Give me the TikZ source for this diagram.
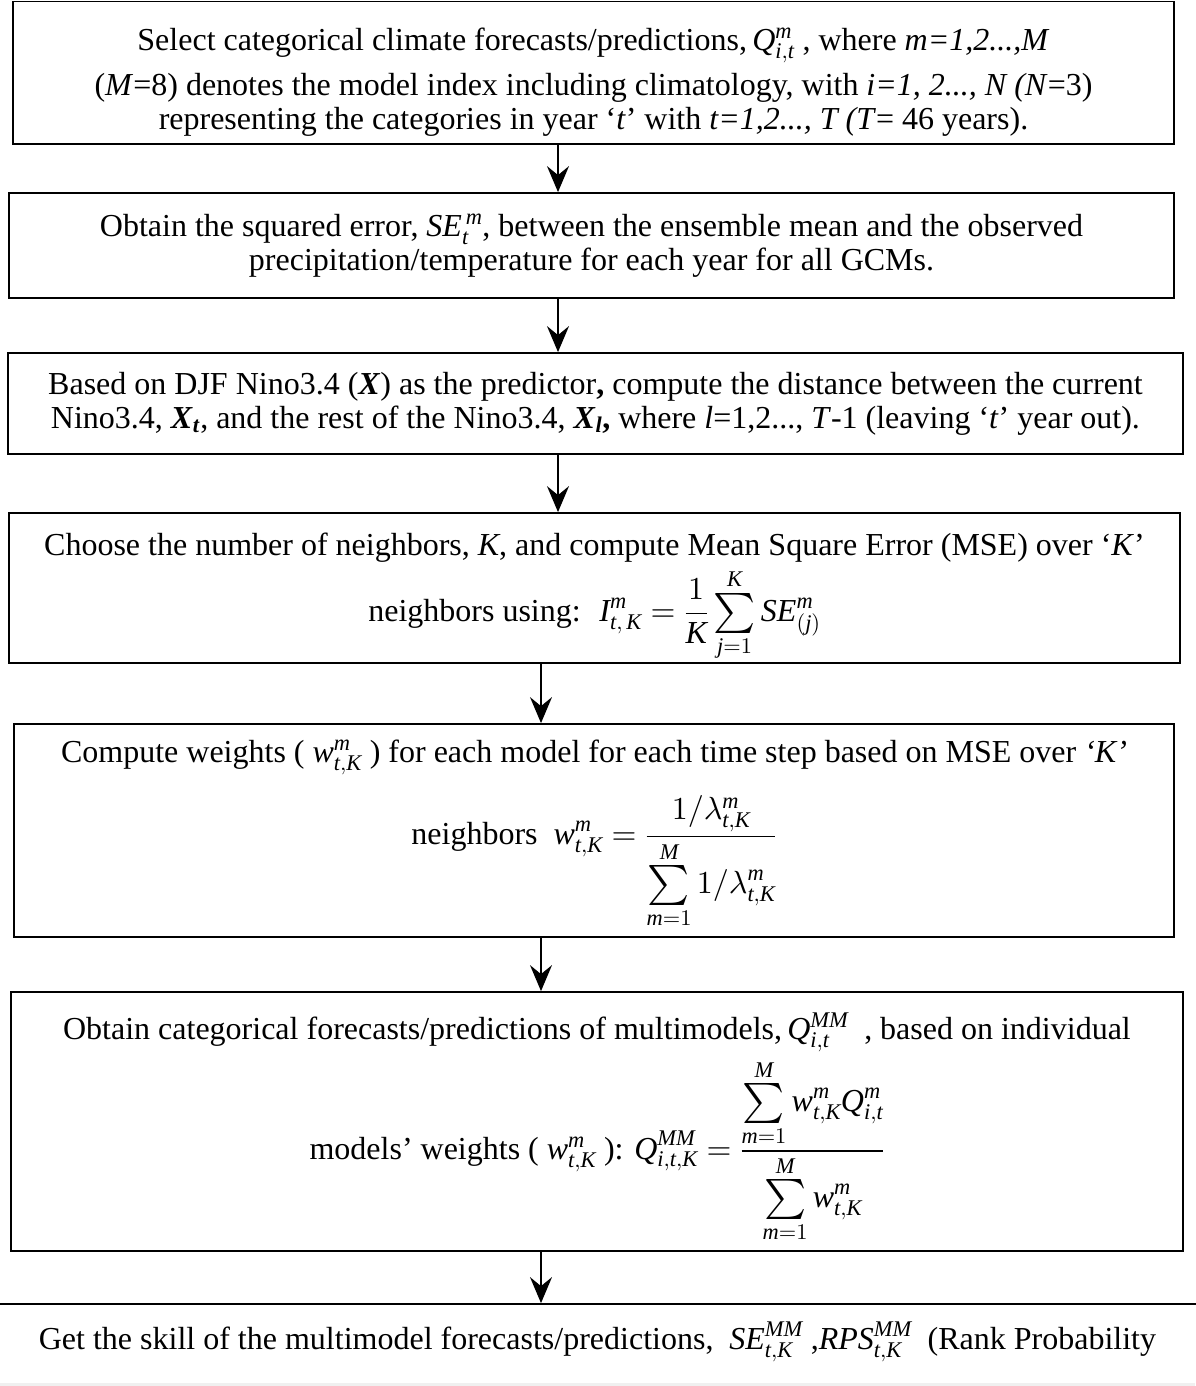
\documentclass[tikz,border=0pt]{standalone}
\usepackage{amsmath}
\usepackage{graphicx}
\DeclareFontShape{OT1}{cmr}{m}{n}{<-> cmr10}{}
\DeclareFontShape{OML}{cmm}{m}{it}{<-> cmmi10}{}
\DeclareFontShape{OMS}{cmsy}{m}{n}{<-> cmsy10}{}
\DeclareFontShape{OMX}{cmex}{m}{n}{<-> cmex10}{}
\usepackage{fontspec}
\setmainfont{Liberation Serif}
\usetikzlibrary{arrows.meta}
\newcommand{\mv}[1]{\mathit{#1}}
\newcommand{\bsum}{\mathop{\vcenter{\hbox{\scalebox{1.25}{$\textstyle\sum$}}}}\limits}
\tikzset{
  box/.style={draw, line width=1.8pt, rectangle, inner sep=0pt},
  txt/.style={align=center, inner sep=0pt, font=\fontsize{32pt}{34pt}\selectfont},
  arr/.style={line width=1.5pt, -{Stealth[length=26pt,width=22pt,inset=9pt]}},
}
\begin{document}
\begin{tikzpicture}[x=1pt,y=-1pt]
\useasboundingbox (0,0) rectangle (1195,1386);
\coordinate (c1) at (558,0);
\coordinate (c2) at (541,0);
% boxes
\node[box, minimum width=1161pt, minimum height=142.5pt] (b1) at (593.5,72.75) {};
\node[box, minimum width=1165pt, minimum height=105pt] (b2) at (591.5,245.5) {};
\node[box, minimum width=1175pt, minimum height=101pt] (b3) at (595.5,403.5) {};
\node[box, minimum width=1171pt, minimum height=150pt] (b4) at (594.5,588) {};
\node[box, minimum width=1160pt, minimum height=213pt] (b5) at (594,830.5) {};
\node[box, minimum width=1172pt, minimum height=259pt] (b6) at (597,1121.5) {};
\fill[black!6] (0,1383) rectangle (1195,1386);
\node[box, minimum width=1215pt, minimum height=116pt] (b7) at (597.5,1362) {};
% texts
\node[txt] (t1) at (593.5,82)
{Select categorical climate forecasts/predictions,$\,\mv{Q}^{\mv{m}}_{\mv{i,t}}$ , where \textit{m=1,2...,M}\\[9pt]
(\textit{M}=8) denotes the model index including climatology, with \textit{i=1, 2..., N (N}=3)\\
representing the categories in year `\textit{t}' with \textit{t=1,2..., T (T}= 46 years).};
\node[txt] (t2) at (591.5,245.5)
{Obtain the squared error, $\mv{SE}_{\mv{t}}^{\,\mv{m}}$, between the ensemble mean and the observed\\
precipitation/temperature for each year for all GCMs.};
\node[txt] (t3) at (595.5,403.5)
{Based on DJF Nino3.4 (\textbf{\textit{X}}) as the predictor\textbf{,} compute the distance between the current\\
Nino3.4, \textbf{\textit{X}}\textsubscript{\textbf{\textit{t}}}, and the rest of the Nino3.4, \textbf{\textit{X}}\textsubscript{\textbf{\textit{l}}}\textbf{,} where \textit{l}=1,2..., \textit{T}-1 (leaving `\textit{t}' year out).};
\node[txt] (t4) at (594.5,597)
{Choose the number of neighbors, \textit{K}, and compute Mean Square Error (MSE) over `\textit{K}'\\[6pt]
neighbors using: \ $\displaystyle\mv{I}^{\mv{m}}_{\mv{t},\,\mv{K}}=\frac{1}{\mv{K}}\bsum_{\mv{j}=1}^{\mv{K}}\mv{SE}^{\mv{m}}_{(\mv{j})}$};
\node[txt] (t5) at (594,834)
{Compute weights ( $\mv{w}^{\mv{m}}_{\mv{t,K}}$ ) for each model for each time step based on MSE over \textit{`K'}\\[20pt]
neighbors \ $\displaystyle\mv{w}^{\mv{m}}_{\mv{t,K}}=\frac{1/\lambda^{\mv{m}}_{\mv{t,K}}}{\displaystyle\bsum_{\mv{m}=1}^{\mv{M}}1/\lambda^{\mv{m}}_{\mv{t,K}}}$};
\node[txt] (t6) at (597,1128)
{Obtain categorical forecasts/predictions of multimodels,$\,\mv{Q}^{\mv{MM}}_{\mv{i,t}}$ \ , based on individual\\[6pt]
models' weights ( $\mv{w}^{\mv{m}}_{\mv{t,K}}$ ): $\displaystyle\mv{Q}^{\mv{MM}}_{\mv{i,t,K}}=\frac{\displaystyle\bsum_{\mv{m}=1}^{\mv{M}}\mv{w}^{\mv{m}}_{\mv{t,K}}\mv{Q}^{\mv{m}}_{\mv{i,t}}}{\displaystyle\bsum_{\mv{m}=1}^{\mv{M}}\mv{w}^{\mv{m}}_{\mv{t,K}}}$};
\node[txt] (t7) at (597.5,1342)
{Get the skill of the multimodel forecasts/predictions, \ $\mv{SE}^{\mv{MM}}_{\mv{t,K}}$ ,$\mv{RPS}^{\mv{MM}}_{\mv{t,K}}$ \ (Rank Probability};
% arrows
\draw[arr] (b1.south -| c1) -- (b2.north -| c1);
\draw[arr] (b2.south -| c1) -- (b3.north -| c1);
\draw[arr] (b3.south -| c1) -- (b4.north -| c1);
\draw[arr] (b4.south -| c2) -- (b5.north -| c2);
\draw[arr] (b5.south -| c2) -- (b6.north -| c2);
\draw[arr] (b6.south -| c2) -- (b7.north -| c2);
\end{tikzpicture}
\end{document}
